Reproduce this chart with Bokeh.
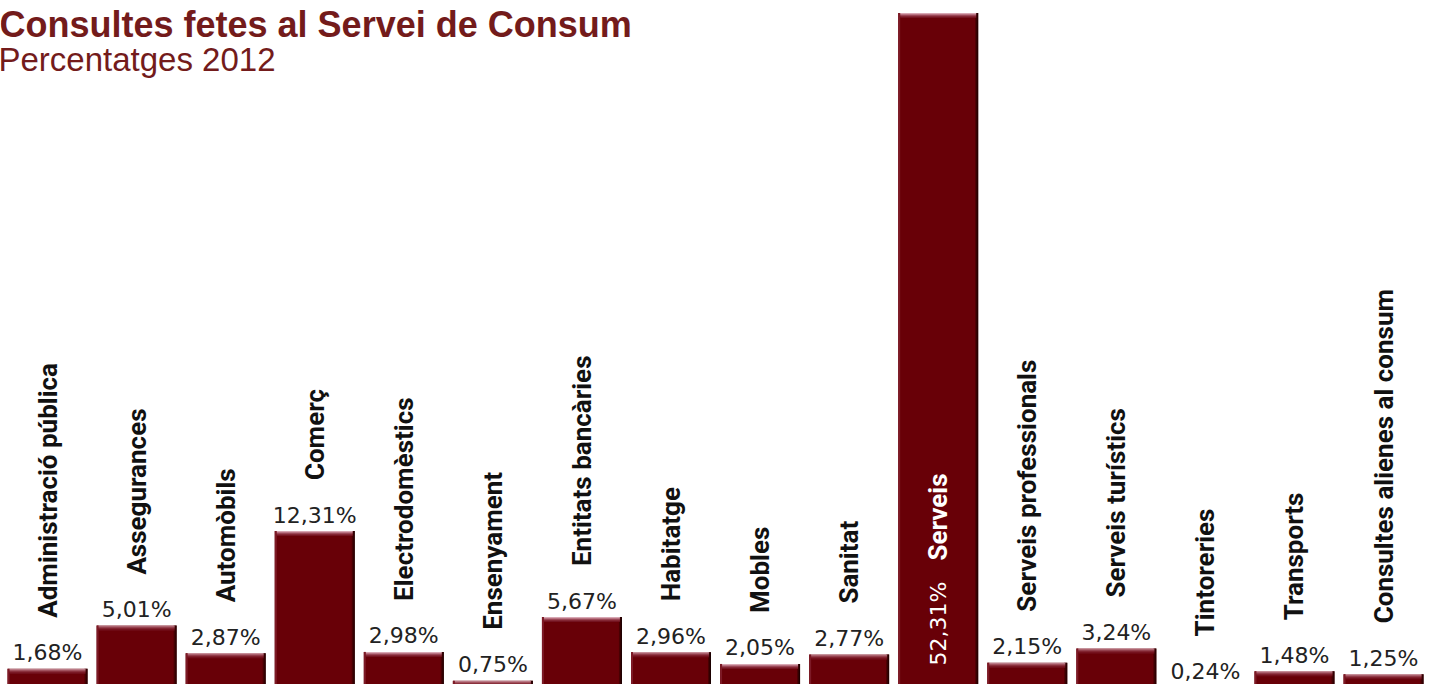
import math
from bokeh.plotting import figure
from bokeh.models import ColumnDataSource, Label
from bokeh.embed import file_html
from bokeh.resources import INLINE

categories = ["Administració pública", "Assegurances", "Automòbils", "Comerç",
              "Electrodomèstics", "Ensenyament", "Entitats bancàries", "Habitatge",
              "Mobles", "Sanitat", "Serveis", "Serveis professionals",
              "Serveis turístics", "Tintoreries", "Transports", "Consultes alienes al consum"]
values = [1.68, 5.01, 2.87, 12.31, 2.98, 0.75, 5.67, 2.96, 2.05, 2.77, 52.31,
          2.15, 3.24, 0.24, 1.48, 1.25]
value_labels = ["1,68%", "5,01%", "2,87%", "12,31%", "2,98%", "0,75%", "5,67%", "2,96%",
                "2,05%", "2,77%", "52,31%", "2,15%", "3,24%", "0,24%", "1,48%", "1,25%"]
title_text = "Consultes fetes al Servei de Consum"
subtitle_text = "Percentatges 2012"

W, H = 1433, 684
x_range = (-0.528, 15.561)
y_range = (0.463, 53.28)
px_x = W / (x_range[1] - x_range[0])
px_y = H / (y_range[1] - y_range[0])

BAR_W = 0.898
BODY = "#680007"
TITLE_COLOR = "#731b1b"

p = figure(width=W, height=H, x_range=x_range, y_range=y_range,
           output_backend="svg", toolbar_location=None, min_border=0,
           outline_line_color=None, background_fill_color="white",
           border_fill_color="white")
p.axis.visible = False
p.grid.visible = False

idx = list(range(len(categories)))
src = ColumnDataSource(dict(x=idx, top=values, cat=categories, lab=value_labels))

# main bars
p.vbar(x="x", top="top", bottom=0, width=BAR_W, source=src,
       fill_color=BODY, line_color=None)

# bevel: left light edge, right dark edge, top highlight
dx = 1.0 / px_x
dy = 1.0 / px_y
left_edge = [i - BAR_W / 2 + 1.0 * dx for i in idx]
p.vbar(x=left_edge, top=values, bottom=0, width=2 * dx, fill_color="#7d1a26", line_color=None)
right_shades = ["#4a0004", "#300002", "#1a0000"]
for k, c in enumerate(right_shades):
    xs = [i + BAR_W / 2 - (len(right_shades) - k - 0.5) * dx for i in idx]
    p.vbar(x=xs, top=values, bottom=0, width=dx, fill_color=c, line_color=None)
top_shades = ["#d7a7b3", "#b97482", "#9a4656", "#842633", "#741320"]
for k, c in enumerate(top_shades):
    tops = [v - k * dy for v in values]
    bots = [v - (k + 1) * dy for v in values]
    p.vbar(x=idx, top=tops, bottom=bots, width=BAR_W - 4 * dx,
           fill_color=c, line_color=None)

# labels outside bars (all except the tallest)
out = [i for i in idx if categories[i] != "Serveis"]
osrc = ColumnDataSource(dict(x=[idx[i] for i in out], top=[values[i] for i in out],
                             cat=[categories[i] for i in out],
                             lab=[value_labels[i] for i in out]))
p.text(x="x", y="top", text="lab", source=osrc, text_align="center",
       text_baseline="alphabetic", y_offset=-16, text_font={"value": "DejaVu Sans"},
       text_font_size="22px", text_color="#222222")
p.text(x="x", y="top", text="cat", source=osrc, angle=math.pi / 2,
       text_align="left", text_baseline="middle", y_offset=-51,
       text_font={"value": "Roboto"}, text_font_style="bold",
       text_font_size="26px", text_color="#111111")

# labels inside the tallest bar
s = categories.index("Serveis")
p.text(x=[idx[s]], y=[0], text=[value_labels[s]], angle=math.pi / 2,
       text_align="left", text_baseline="middle", y_offset=-25,
       text_font={"value": "DejaVu Sans"}, text_font_size="22px", text_color="white")
p.text(x=[idx[s]], y=[0], text=[categories[s]], angle=math.pi / 2,
       text_align="left", text_baseline="middle", y_offset=-130,
       text_font={"value": "Roboto"}, text_font_style="bold",
       text_font_size="26px", text_color="white")

p.add_layout(Label(x=-1, y=660, x_units="screen", y_units="screen", text=title_text,
                   text_font="Liberation Sans", text_font_style="bold",
                   text_font_size="36px", text_color=TITLE_COLOR,
                   text_baseline="alphabetic"))
p.add_layout(Label(x=-2, y=625, x_units="screen", y_units="screen", text=subtitle_text,
                   text_font="Liberation Sans", text_font_size="33px",
                   text_color=TITLE_COLOR, text_baseline="alphabetic"))

open("out.html", "w").write(file_html(p, INLINE))
